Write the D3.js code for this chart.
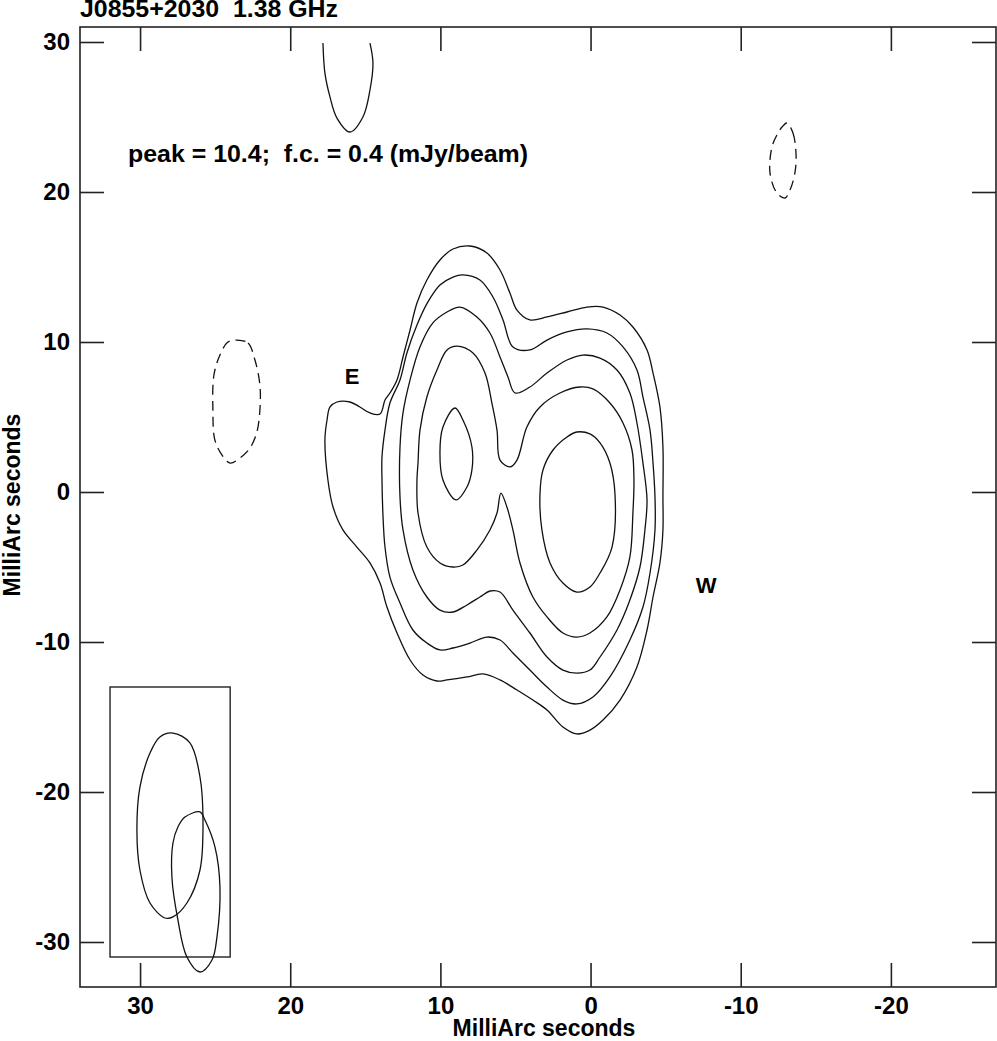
<!DOCTYPE html>
<html>
<head>
<meta charset="utf-8">
<script src="https://cdn.jsdelivr.net/npm/d3@7"></script>
<style>
  html, body { margin: 0; padding: 0; background: #fff; }
  svg { display: block; }
  text { font-family: "Liberation Sans", Arial, Helvetica, sans-serif; font-weight: bold; fill: #000; white-space: pre; }
</style>
</head>
<body>
<svg id="chart" width="997" height="1041"></svg>
<script>
// ---------- data (milliarcseconds) ----------
const title = "J0855+2030  1.38 GHz";
const annotation = "peak = 10.4;  f.c. = 0.4 (mJy/beam)";
const axisLabel = "MilliArc seconds";
const xTicks = [30, 20, 10, 0, -10, -20];
const yTicks = [30, 20, 10, 0, -10, -20, -30];
const xDomain = [34, -27];
const yDomain = [31, -33];

// contour level 1 (0.4 mJy/beam, outermost)
const level1 = [[8.03,16.4],[6.90,15.93],[6.03,14.8],[5.37,13.27],[4.90,12.13],[4.04,11.47],[2.90,11.67],[1.57,12.0],[0.24,12.33],[-0.83,12.33],[-1.96,11.8],[-2.82,11.0],[-3.76,9.47],[-4.16,7.93],[-4.62,5.67],[-4.82,3.0],[-4.82,-0.33],[-4.82,-2.53],[-4.62,-4.73],[-4.16,-7.0],[-3.76,-9.2],[-3.09,-11.67],[-1.96,-13.87],[-0.83,-15.2],[0.04,-15.87],[0.91,-16.13],[1.84,-15.67],[2.90,-14.53],[3.84,-13.87],[4.90,-13.2],[6.03,-12.53],[7.17,-12.13],[8.23,-12.33],[9.56,-12.53],[10.23,-12.6],[11.16,-12.2],[12.02,-11.2],[12.89,-9.4],[13.56,-7.67],[14.02,-6.07],[14.69,-4.73],[15.56,-3.67],[16.49,-2.53],[17.15,-1.0],[17.49,0.8],[17.69,3.47],[17.55,4.8],[17.35,5.67],[16.89,6.0],[16.02,6.0],[15.36,5.67],[14.69,5.27],[14.02,5.2],[13.69,6.13],[13.36,6.6],[12.89,7.47],[12.49,9.0],[12.02,10.8],[11.56,12.6],[10.90,14.13],[10.03,15.47],[9.16,16.2]];
// contour level 1, open piece at the top edge of the map
const level1Top = [[17.82,29.93],[17.69,27.93],[17.35,26.33],[16.89,24.93],[16.02,24.0],[15.16,25.0],[14.69,26.8],[14.49,28.6],[14.69,29.93]];
// level 2
const level2 = [[8.50,14.47],[7.37,14.13],[6.50,13.0],[5.83,11.47],[5.17,9.67],[4.04,9.47],[2.90,10.13],[1.57,10.67],[0.24,10.87],[-1.09,10.6],[-2.16,9.67],[-3.09,8.13],[-3.49,6.33],[-3.96,4.13],[-4.16,1.93],[-4.29,-0.33],[-4.29,-2.53],[-3.96,-5.4],[-3.49,-7.67],[-2.62,-9.87],[-1.29,-12.33],[-0.16,-13.67],[0.91,-14.13],[1.84,-13.87],[2.90,-13.0],[4.04,-11.87],[5.17,-10.73],[6.03,-9.87],[6.90,-9.67],[8.03,-10.07],[9.16,-10.4],[10.03,-10.53],[10.90,-10.07],[11.83,-9.2],[12.69,-7.4],[13.36,-5.67],[13.69,-3.67],[13.83,-1.4],[13.89,0.8],[13.89,2.33],[13.69,4.13],[13.36,5.93],[12.69,7.47],[12.23,9.27],[11.56,11.13],[10.83,12.67],[10.03,13.8],[9.16,14.33]];
// level 3
const level3 = [[8.70,12.33],[7.57,11.67],[6.70,10.6],[6.03,9.0],[5.50,7.67],[5.03,6.6],[4.04,7.0],[2.90,7.93],[1.57,8.8],[0.51,9.13],[-0.63,8.93],[-1.76,8.13],[-2.62,6.6],[-3.09,4.6],[-3.49,1.93],[-3.76,-0.53],[-3.62,-2.53],[-3.29,-5.0],[-2.62,-7.2],[-1.76,-9.2],[-0.63,-11.0],[0.04,-11.87],[0.91,-12.07],[1.84,-11.87],[2.90,-11.0],[4.04,-9.4],[5.17,-7.87],[6.03,-6.67],[6.70,-6.6],[7.37,-7.0],[8.23,-7.53],[9.16,-8.0],[10.03,-7.87],[10.90,-7.0],[11.83,-5.2],[12.49,-2.53],[12.69,-0.33],[12.69,3.0],[12.49,5.27],[12.02,7.47],[11.36,9.67],[10.50,11.27],[9.56,12.0]];
// level 4
const level4 = [[8.90,9.73],[7.83,9.27],[7.03,7.93],[6.57,5.93],[6.23,4.13],[6.03,2.13],[5.37,1.67],[4.90,2.13],[4.24,4.33],[3.37,5.67],[2.04,6.6],[0.71,7.0],[-0.16,6.87],[-1.29,5.93],[-2.16,4.6],[-2.76,2.8],[-2.89,0.8],[-2.82,-1.4],[-2.62,-4.33],[-1.96,-6.53],[-1.09,-8.33],[0.04,-9.4],[0.91,-9.67],[1.84,-9.4],[2.90,-8.33],[3.84,-7.0],[4.70,-4.73],[5.17,-2.53],[5.57,-1.0],[5.97,-0.07],[6.23,-1.4],[6.70,-2.53],[7.57,-3.87],[8.50,-4.87],[9.16,-5.0],[10.03,-4.73],[10.90,-3.67],[11.49,-1.4],[11.56,0.8],[11.49,1.93],[11.36,4.13],[10.90,6.33],[10.23,8.13],[9.56,9.47]];
// level 5 (east and west peaks)
const level5East = [[9.03,5.6],[8.50,4.8],[7.90,3.0],[7.90,1.47],[8.23,0.33],[8.96,-0.53],[9.83,0.8],[10.03,2.6],[9.83,4.33]];
const level5West = [[0.91,4.0],[0.04,3.87],[-0.63,3.27],[-1.29,1.93],[-1.63,-0.2],[-1.43,-3.67],[-0.63,-5.4],[0.04,-6.33],[0.91,-6.67],[1.84,-6.07],[2.70,-4.73],[3.24,-2.53],[3.37,-0.2],[3.17,1.47],[2.50,2.8],[1.57,3.67]];
// negative contours (-0.4 mJy/beam, dashed)
const negative1 = [[23.55,10.13],[22.81,9.93],[22.35,8.8],[22.02,7.13],[22.02,5.47],[22.22,4.0],[22.68,2.93],[23.35,2.27],[24.01,1.93],[24.55,2.47],[25.02,3.47],[25.15,5.47],[25.08,7.8],[24.68,9.13],[24.15,10.0]];
const negative2 = [[-13.08,24.6],[-13.48,23.93],[-13.68,22.6],[-13.61,21.27],[-13.28,20.13],[-12.95,19.6],[-12.41,19.93],[-11.95,21.27],[-12.08,23.0],[-12.41,23.8],[-12.75,24.33]];
// restoring beam box and beam contours
const beamBoxX = [32, 24];
const beamBoxY = [-13, -31];
const beam1 = [[27.81,-16.07],[26.68,-16.73],[26.01,-19.0],[25.81,-21.87],[26.01,-25.2],[26.88,-27.4],[27.81,-28.33],[28.34,-28.4],[29.34,-27.4],[30.01,-25.2],[30.21,-22.53],[30.01,-19.67],[29.34,-17.4],[28.68,-16.33]];
const beam2 = [[27.01,-21.67],[26.01,-21.33],[25.68,-21.87],[25.01,-23.67],[24.68,-26.33],[24.88,-29.67],[25.21,-31.2],[26.01,-32.0],[26.88,-31.0],[27.48,-28.53],[27.88,-25.67],[27.81,-23.4],[27.48,-22.33]];
// labels
const componentLabels = [{text: "E", x: 15.88, y: 7.73}, {text: "W", x: -7.69, y: -6.2}];
const annotationPos = [30.8, 22.0];

// ---------- drawing ----------
const svg = d3.select("#chart");
const x = d3.scaleLinear().domain(xDomain).range([80, 996]);
const y = d3.scaleLinear().domain(yDomain).range([27, 987]);
const ink = "#111";

const closedLine = d3.line().x(d => x(d[0])).y(d => y(d[1])).curve(d3.curveCatmullRomClosed.alpha(0.5));
const openLine = d3.line().x(d => x(d[0])).y(d => y(d[1])).curve(d3.curveCatmullRom.alpha(0.5));

const g = svg.append("g");

// frame
g.append("rect")
  .attr("x", x(xDomain[0])).attr("y", y(yDomain[0]))
  .attr("width", x(xDomain[1]) - x(xDomain[0]))
  .attr("height", y(yDomain[1]) - y(yDomain[0]))
  .attr("fill", "none").attr("stroke", "#222").attr("stroke-width", 1.6);

// axes with inward ticks on all sides
const tickLen = 24;
const fmt = d => String(d);
const axB = d3.axisBottom(x).tickValues(xTicks).tickSizeInner(-tickLen).tickSizeOuter(0).tickFormat(fmt);
const axT = d3.axisTop(x).tickValues(xTicks).tickSizeInner(-tickLen).tickSizeOuter(0).tickFormat("");
const axL = d3.axisLeft(y).tickValues(yTicks).tickSizeInner(-tickLen).tickSizeOuter(0).tickFormat(fmt);
const axR = d3.axisRight(y).tickValues(yTicks).tickSizeInner(-tickLen).tickSizeOuter(0).tickFormat("");

function styleAxis(sel) {
  sel.select(".domain").remove();
  sel.selectAll(".tick line").attr("stroke", "#222").attr("stroke-width", 1.6);
  sel.selectAll(".tick text").attr("font-size", 24).attr("font-family", "Liberation Sans, Arial, sans-serif").attr("font-weight", "bold").attr("fill", "#000");
}
g.append("g").attr("transform", `translate(0,${y(yDomain[1])})`).call(axB).call(styleAxis)
  .selectAll(".tick text").attr("dy", "0.71em").attr("y", 10);
g.append("g").attr("transform", `translate(0,${y(yDomain[0])})`).call(axT).call(styleAxis);
g.append("g").attr("transform", `translate(${x(xDomain[0])},0)`).call(axL).call(styleAxis)
  .selectAll(".tick text").attr("x", -10);
g.append("g").attr("transform", `translate(${x(xDomain[1])},0)`).call(axR).call(styleAxis);

// contours
const solid = [level1, level2, level3, level4, level5East, level5West];
g.selectAll("path.pos").data(solid).join("path").attr("class", "pos")
  .attr("d", closedLine).attr("fill", "none").attr("stroke", ink).attr("stroke-width", 1.3);
g.append("path").datum(level1Top).attr("d", openLine)
  .attr("fill", "none").attr("stroke", ink).attr("stroke-width", 1.3);
g.selectAll("path.neg").data([negative1, negative2]).join("path").attr("class", "neg")
  .attr("d", closedLine).attr("fill", "none").attr("stroke", ink).attr("stroke-width", 1.3)
  .attr("stroke-dasharray", "10,6");

// beam box
g.append("rect")
  .attr("x", x(beamBoxX[0])).attr("y", y(beamBoxY[0]))
  .attr("width", x(beamBoxX[1]) - x(beamBoxX[0]))
  .attr("height", y(beamBoxY[1]) - y(beamBoxY[0]))
  .attr("fill", "none").attr("stroke", "#222").attr("stroke-width", 1.4);
g.selectAll("path.beam").data([beam1, beam2]).join("path").attr("class", "beam")
  .attr("d", closedLine).attr("fill", "none").attr("stroke", ink).attr("stroke-width", 1.3);

// component labels
g.selectAll("text.comp").data(componentLabels).join("text").attr("class", "comp")
  .attr("x", d => x(d.x)).attr("y", d => y(d.y)).attr("dy", "0.36em")
  .attr("text-anchor", "middle").attr("font-size", 22).text(d => d.text);

// annotation
g.append("text").attr("x", x(annotationPos[0])).attr("y", y(annotationPos[1]))
  .attr("font-size", 23).attr("textLength", 400).attr("lengthAdjust", "spacingAndGlyphs")
  .text(annotation);

// title
svg.append("text").attr("x", 80).attr("y", 17).attr("font-size", 24)
  .attr("textLength", 258).attr("lengthAdjust", "spacingAndGlyphs").text(title);

// axis labels
svg.append("text").attr("x", (x(xDomain[0]) + x(xDomain[1])) / 2 + 6).attr("y", 1036)
  .attr("text-anchor", "middle").attr("font-size", 23).text(axisLabel);
svg.append("text").attr("transform", `translate(20,${(y(yDomain[0]) + y(yDomain[1])) / 2 - 2}) rotate(-90)`)
  .attr("text-anchor", "middle").attr("font-size", 23).text(axisLabel);
</script>
</body>
</html>
